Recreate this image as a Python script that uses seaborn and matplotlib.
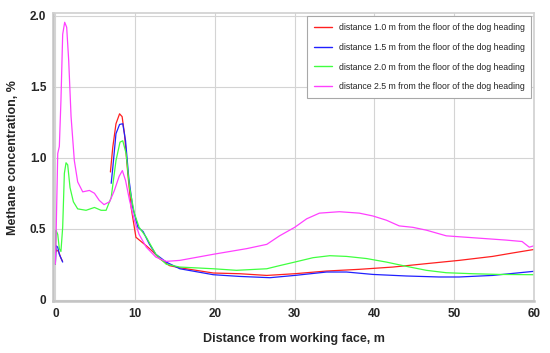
import numpy as np
import pandas as pd
import matplotlib
matplotlib.use("Agg")
import matplotlib.pyplot as plt
import seaborn as sns

# Series (distance m, methane %)
red_x1 = [0.0, 0.15, 0.4, 0.65, 0.9]
red_y1 = [0.33, 0.35, 0.34, 0.30, 0.27]
red_x2 = [6.9, 7.2, 7.6, 8.05, 8.37, 8.66, 9.08, 9.5, 10.1, 10.75, 11.4, 12.2, 13.05, 14.3,
          15.6, 19.8, 23.1, 26.5, 30, 34, 38.1, 42.3, 46.5, 50.6, 54.8, 57.3, 60]
red_y2 = [0.90, 1.075, 1.24, 1.31, 1.29, 1.17, 0.89, 0.65, 0.44, 0.41, 0.38, 0.34, 0.29, 0.24,
          0.225, 0.188, 0.183, 0.171, 0.183, 0.202, 0.214, 0.23, 0.254, 0.277, 0.305, 0.329, 0.354]

blue_x1 = [0.0, 0.1, 0.3, 0.5, 0.92]
blue_y1 = [0.25, 0.38, 0.37, 0.32, 0.265]
blue_x2 = [7.0, 7.2, 7.6, 8.05, 8.45, 8.8, 9.2, 9.7, 10.35, 11.0, 11.8, 12.6, 13.9,
           15.6, 19.8, 23.1, 26.9, 30, 34, 36.5, 39.8, 44, 48.1, 50.6, 54.8, 60]
blue_y2 = [0.82, 0.93, 1.17, 1.235, 1.24, 1.12, 0.86, 0.65, 0.51, 0.48, 0.39, 0.32, 0.265,
           0.218, 0.176, 0.164, 0.155, 0.171, 0.195, 0.195, 0.178, 0.167, 0.16, 0.16, 0.171, 0.20]

green_x = [0.0, 0.08, 0.3, 0.5, 0.7, 0.92, 1.13, 1.34, 1.55, 1.84, 2.26, 2.8, 3.85, 4.9,
           5.73, 6.36, 7.0, 7.6, 8.1, 8.45, 8.87, 9.3, 9.9, 10.5, 11.4, 12.6, 13.9,
           15.6, 19.8, 22.7, 26.5, 28.1, 30, 32.3, 34.4, 36.5, 39, 41.5, 44, 46.5, 49,
           52.3, 55.6, 60]
green_y = [0.25, 0.49, 0.46, 0.36, 0.34, 0.51, 0.89, 0.965, 0.95, 0.79, 0.69, 0.64, 0.63, 0.65,
           0.63, 0.63, 0.72, 0.98, 1.11, 1.12, 1.03, 0.79, 0.61, 0.51, 0.44, 0.32, 0.25,
           0.23, 0.218, 0.207, 0.218, 0.24, 0.265, 0.296, 0.31, 0.305, 0.29, 0.265, 0.235,
           0.207, 0.19, 0.183, 0.178, 0.176]

magenta_x = [0.0, 0.08, 0.3, 0.5, 0.7, 0.92, 1.17, 1.42, 1.67, 1.97, 2.38, 2.8, 3.43, 4.27,
             4.9, 5.5, 6.1, 6.8, 7.4, 8.0, 8.4, 8.8, 9.3, 9.9, 10.5, 11.4, 12.6, 13.9,
             15.6, 19.8, 24, 26.5, 28.1, 30, 31.5, 33.1, 35.6, 38.1, 39.8, 41.5, 43.1,
             44.8, 46.5, 49, 51.5, 54, 56.5, 58.5, 59.4, 60]
magenta_y = [0.25, 0.42, 1.03, 1.08, 1.40, 1.87, 1.955, 1.92, 1.69, 1.29, 0.98, 0.83, 0.76, 0.77,
             0.75, 0.70, 0.67, 0.69, 0.77, 0.87, 0.91, 0.84, 0.70, 0.56, 0.46, 0.37, 0.30, 0.27,
             0.277, 0.32, 0.36, 0.39, 0.45, 0.51, 0.57, 0.61, 0.62, 0.61, 0.59, 0.56, 0.52,
             0.51, 0.49, 0.45, 0.44, 0.43, 0.42, 0.41, 0.37, 0.38]

labels = ["distance 1.0 m from the floor of the dog heading",
          "distance 1.5 m from the floor of the dog heading",
          "distance 2.0 m from the floor of the dog heading",
          "distance 2.5 m from the floor of the dog heading"]
colors = ["#ff2020", "#2020ff", "#40ff40", "#ff40ff"]

# long-form table, segments as units so the gaps stay open
parts = [
    (labels[0], 0, red_x1, red_y1), (labels[0], 1, red_x2, red_y2),
    (labels[1], 0, blue_x1, blue_y1), (labels[1], 1, blue_x2, blue_y2),
    (labels[2], 0, green_x, green_y),
    (labels[3], 0, magenta_x, magenta_y),
]
df = pd.concat([pd.DataFrame({"x": xs, "y": ys, "series": s, "seg": seg})
                for s, seg, xs, ys in parts], ignore_index=True)

sns.set_style("white")
plt.rcParams['font.family'] = ['Liberation Sans', 'DejaVu Sans']

fig, ax = plt.subplots(figsize=(5.5, 3.53), dpi=100)
fig.subplots_adjust(left=0.097, right=0.971, top=0.963, bottom=0.147)

sns.lineplot(data=df, x="x", y="y", hue="series", units="seg", estimator=None,
             sort=False, palette=dict(zip(labels, colors)), hue_order=labels,
             linewidth=0.9, ax=ax)

# Decoration
ax.set_xlim(-0.25, 60)
ax.set_ylim(-0.01, 2.02)
ax.set_xticks([0, 10, 20, 30, 40, 50, 60])
ax.set_yticks([0, 0.5, 1.0, 1.5, 2.0])
ax.set_yticklabels(["0", "0.5", "1.0", "1.5", "2.0"])
ax.grid(True, color="#d4d4d4", linewidth=0.8)
ax.tick_params(length=0, labelsize=8.5, pad=5)
for lab in ax.get_xticklabels() + ax.get_yticklabels():
    lab.set_fontweight("bold")
for side in ["left", "bottom"]:
    ax.spines[side].set_color("#c4c4c4")
    ax.spines[side].set_linewidth(1.8)
for side in ["top", "right"]:
    ax.spines[side].set_color("#d0d0d0")
    ax.spines[side].set_linewidth(1.2)

ax.set_xlabel("Distance from working face, m", fontsize=9, fontweight="bold", labelpad=9)
ax.set_ylabel("Methane concentration, %", fontsize=9, fontweight="bold", labelpad=8)

leg = ax.legend(loc="upper right", fontsize=6.3, frameon=True, fancybox=False,
                edgecolor="#a8a8a8", framealpha=1, labelspacing=1.25,
                handlelength=2.0, borderaxespad=0.3, borderpad=0.8)
leg.get_frame().set_linewidth(0.8)
for line in leg.get_lines():
    line.set_linewidth(1.0)

fig.savefig("out.png", dpi=100)
